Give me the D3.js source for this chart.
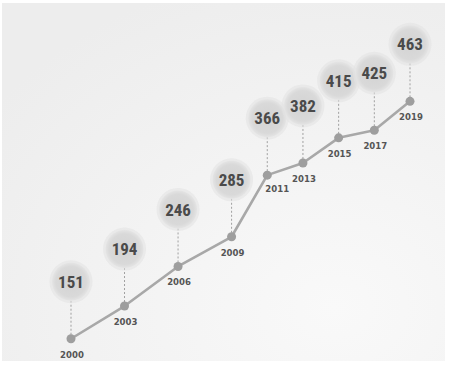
<!DOCTYPE html>
<html>
<head>
<meta charset="utf-8">
<script src="https://cdn.jsdelivr.net/npm/d3@7"></script>
<style>
  html, body { margin: 0; padding: 0; background: #ffffff; }
  svg { display: block; }
</style>
</head>
<body>
<svg id="chart" width="450" height="367"></svg>
<script>
// Yearly totals along a rising path
const years = [2000, 2003, 2006, 2009, 2011, 2013, 2015, 2017, 2019];
const values = [151, 194, 246, 285, 366, 382, 415, 425, 463];

const W = 450, H = 367;
const svg = d3.select("#chart");

// Paper-like backdrop
const defs = svg.append("defs");
const bg = defs.append("radialGradient").attr("id", "paper")
  .attr("cx", "75%").attr("cy", "85%").attr("r", "95%");
bg.append("stop").attr("offset", "0%").attr("stop-color", "#f9f9f9");
bg.append("stop").attr("offset", "100%").attr("stop-color", "#ededed");

const bub = defs.append("radialGradient").attr("id", "bubble");
bub.append("stop").attr("offset", "0%").attr("stop-color", "#d3d3d3");
bub.append("stop").attr("offset", "80%").attr("stop-color", "#d9d9d9");
bub.append("stop").attr("offset", "100%").attr("stop-color", "#e4e4e4");

svg.append("rect").attr("x", 0).attr("y", 0).attr("width", W).attr("height", H)
  .attr("fill", "#ffffff");
svg.append("rect").attr("x", 2).attr("y", 3).attr("width", 443).attr("height", 358)
  .attr("fill", "url(#paper)");

const x = d3.scaleLinear().domain([2000, 2019]).range([71, 410]);
const y = d3.scaleLinear().domain([150, 470]).range([339.5, 96]);

const data = years.map((yr, i) => ({ year: yr, value: values[i] }));

const bubbleRise = 57;   // bubble centre above its point
const bubbleR = 19;

// Dashed leaders from each bubble down to its point
svg.append("g").selectAll("line").data(data).join("line")
  .attr("x1", d => x(d.year)).attr("x2", d => x(d.year))
  .attr("y1", d => y(d.value) - bubbleRise + bubbleR)
  .attr("y2", d => y(d.value))
  .attr("stroke", "#a0a0a0").attr("stroke-width", 1)
  .attr("stroke-dasharray", "2,2");

// The trend line
const line = d3.line().x(d => x(d.year)).y(d => y(d.value));
svg.append("path").datum(data)
  .attr("d", line)
  .attr("fill", "none")
  .attr("stroke", "#a8a8a8")
  .attr("stroke-width", 2.6)
  .attr("stroke-linejoin", "round");

// Point markers
svg.append("g").selectAll("circle").data(data).join("circle")
  .attr("cx", d => x(d.year)).attr("cy", d => y(d.value))
  .attr("r", 4.5)
  .attr("fill", "#9e9e9e");

// Value bubbles
const b = svg.append("g").selectAll("g").data(data).join("g")
  .attr("transform", d => `translate(${x(d.year)},${y(d.value) - bubbleRise})`);
b.append("circle").attr("r", bubbleR + 2.5).attr("fill", "#e2e2e2").attr("opacity", 0.55);
b.append("circle").attr("r", bubbleR).attr("fill", "url(#bubble)");
b.append("text")
  .attr("text-anchor", "middle").attr("dy", "0.36em")
  .attr("font-family", "'Liberation Sans Narrow', 'Roboto Condensed', 'DejaVu Sans Condensed', sans-serif")
  .attr("font-weight", "bold").attr("font-size", 17)
  .attr("fill", "#4a4a4a")
  .text(d => d.value);

// Year labels under each point (2011 sits to the right of the steep climb)
svg.append("g").selectAll("text").data(data).join("text")
  .attr("x", d => x(d.year) + (d.year === 2011 ? 10 : 1))
  .attr("y", d => y(d.value) + (d.year === 2011 ? 17 : 19))
  .attr("text-anchor", "middle")
  .attr("font-family", "'Liberation Sans Narrow', 'DejaVu Sans Condensed', sans-serif")
  .attr("font-weight", "bold").attr("font-size", 9.5)
  .attr("fill", "#555555")
  .text(d => d.year);
</script>
</body>
</html>
